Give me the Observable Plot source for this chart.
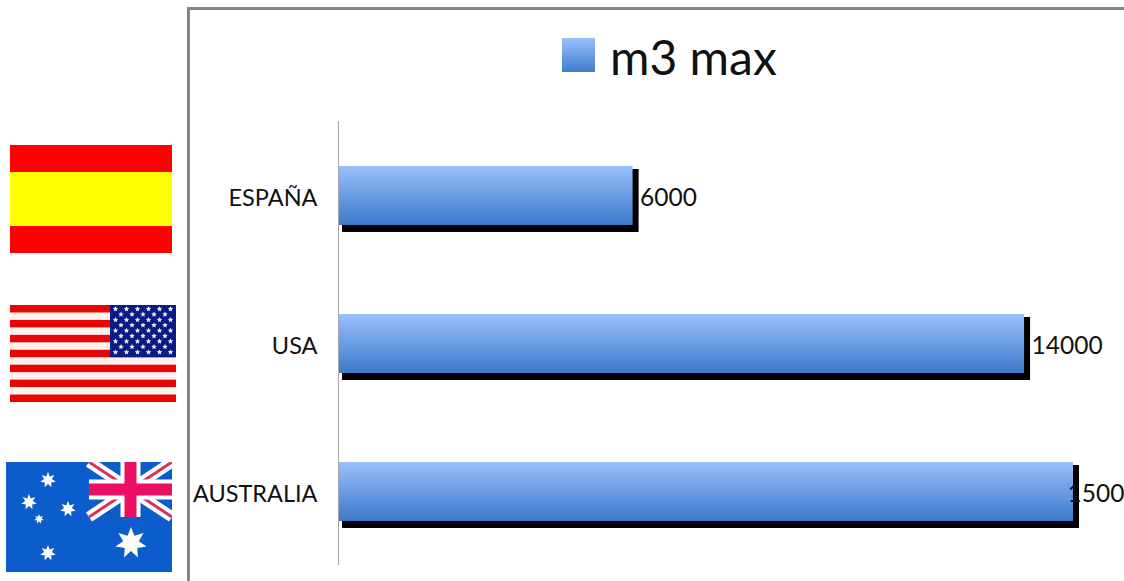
<!DOCTYPE html>
<html>
<head>
<meta charset="utf-8">
<script src="https://cdn.jsdelivr.net/npm/d3@7"></script>
<script src="https://cdn.jsdelivr.net/npm/@observablehq/plot@0.6"></script>
<style>
  html, body { margin: 0; padding: 0; background: #fff; overflow: hidden; }
  #page { position: relative; width: 1124px; height: 581px; overflow: hidden; font-family: Lato, sans-serif; color: #111; }
  #frame { position: absolute; left: 187px; top: 7px; width: 1000px; height: 700px; border-left: 3px solid #858585; border-top: 3px solid #858585; box-sizing: border-box; }
  #chart { position: absolute; left: 0; top: 0; }
  #legend { position: absolute; left: 562px; top: 22px; display: flex; align-items: center; height: 70px; }
  #swatch { width: 33px; height: 34px; margin-top: -5px; background: linear-gradient(#9abffb, #3f7ccd); }
  #legend span { margin-left: 15px; font-size: 48px; line-height: 70px; }
  .flag { position: absolute; display: block; }
</style>
</head>
<body>
<div id="page">
  <div id="frame"></div>
  <div id="chart"></div>
  <div id="legend"><div id="swatch"></div><span id="legend-label"></span></div>
</div>
<script>
const countries = ["ESPAÑA", "USA", "AUSTRALIA"];
const maxVolumes = [6000, 14000, 15000];
const seriesName = "m3 max";

const rows = countries.map((country, i) => ({country, value: maxVolumes[i]}));

document.getElementById("legend-label").textContent = seriesName;

// Vertical blue gradient shared by every bar
const barGradient = () => {
  const svg = d3.create("svg:g");
  const gradient = svg.append("linearGradient")
    .attr("id", "bar-fill").attr("x1", 0).attr("y1", 0).attr("x2", 0).attr("y2", 1);
  gradient.append("stop").attr("offset", "0%").attr("stop-color", "#9abffb");
  gradient.append("stop").attr("offset", "100%").attr("stop-color", "#3c79cb");
  return svg.node();
};

const chart = Plot.plot({
  width: 1124,
  height: 581,
  marginLeft: 339,
  marginRight: 51,
  marginTop: 121,
  marginBottom: 16,
  style: {background: "transparent", fontFamily: "Lato, sans-serif", overflow: "hidden"},
  x: {domain: [0, 15000], axis: null},
  y: {domain: countries, paddingInner: 0.6, paddingOuter: 0.3, label: null},
  marks: [
    barGradient,
    // Offset black shadow behind each bar
    Plot.barX(rows, {
      x: "value", y: "country", fill: "black", dy: 1,
      insetLeft: 3, insetRight: -6, insetTop: 3, insetBottom: -7
    }),
    Plot.barX(rows, {x: "value", y: "country", fill: "url(#bar-fill)", dy: 1}),
    Plot.ruleX([0], {stroke: "#a6a6a6", strokeWidth: 1, dx: -1}),
    Plot.axisY({tickSize: 0, tickPadding: 22, fontSize: 23.5, label: null, fill: "#111", marginLeft: 339, dy: 3}),
    Plot.text(rows.filter(d => d.value < 15000), {
      x: "value", y: "country", text: d => String(d.value),
      textAnchor: "start", dx: 7, dy: 3, fontSize: 24.5, fill: "#111"
    }),
    // The longest bar's label sits over the bar end and runs off the page
    Plot.text(rows.filter(d => d.value === 15000), {
      x: "value", y: "country", text: d => String(d.value),
      textAnchor: "start", dx: -6, dy: 3, fontSize: 24.5, fill: "#111"
    })
  ]
});
document.getElementById("chart").append(chart);

// Flag helpers: each flag is its own small SVG placed beside the chart
const page = document.getElementById("page");
function flagSvg(left, top, w, h) {
  const s = d3.create("svg").attr("class", "flag").attr("width", w).attr("height", h)
    .attr("viewBox", `0 0 ${w} ${h}`).style("left", left + "px").style("top", top + "px");
  page.append(s.node());
  return s;
}
function starPath(cx, cy, r, points, innerRatio) {
  const p = [];
  for (let i = 0; i < points * 2; i++) {
    const rad = i % 2 ? r * innerRatio : r;
    const a = -Math.PI / 2 + i * Math.PI / points;
    p.push([cx + rad * Math.cos(a), cy + rad * Math.sin(a)]);
  }
  return "M" + p.map(d => d.join(",")).join("L") + "Z";
}

// Spain
{
  const s = flagSvg(10, 145, 162, 108);
  s.append("rect").attr("width", 162).attr("height", 108).attr("fill", "#fe0000");
  s.append("rect").attr("y", 27).attr("width", 162).attr("height", 54).attr("fill", "#ffff00");
}

// USA, with the canton on the right
{
  const w = 166, h = 97, stripe = h / 13;
  const s = flagSvg(10, 305, w, h);
  s.append("rect").attr("width", w).attr("height", h).attr("fill", "#fdf3ee");
  for (let i = 0; i < 13; i += 2) {
    s.append("rect").attr("y", i * stripe).attr("width", w).attr("height", stripe).attr("fill", "#e60606");
  }
  s.append("rect").attr("x", 100).attr("width", 66).attr("height", stripe * 7).attr("fill", "#0c1a84");
  for (let r = 0; r < 9; r++) {
    const n = r % 2 ? 5 : 6;
    for (let c = 0; c < n; c++) {
      const x = 100 + (r % 2 ? 11 : 5.5) + c * 11;
      const y = 4 + r * 5.4;
      s.append("path").attr("d", starPath(x, y, 2.8, 5, 0.5)).attr("fill", "#e8e8f4");
    }
  }
}

// Australia
{
  const w = 166, h = 110;
  const s = flagSvg(6, 462, w, h);
  s.append("rect").attr("width", w).attr("height", h).attr("fill", "#0c5ccb");
  const jack = s.append("g").attr("transform", "translate(83,0)");
  const jw = 83, jh = 55;
  jack.append("path").attr("d", `M0,0L${jw},${jh}M${jw},0L0,${jh}`).attr("stroke", "#fff").attr("stroke-width", 11);
  jack.append("path").attr("d", `M0,0L${jw},${jh}M${jw},0L0,${jh}`).attr("stroke", "#d8305f").attr("stroke-width", 3);
  jack.append("path").attr("d", `M${jw / 2},0V${jh}M0,${jh / 2}H${jw}`).attr("stroke", "#fff").attr("stroke-width", 20);
  jack.append("path").attr("d", `M${jw / 2},0V${jh}M0,${jh / 2}H${jw}`).attr("stroke", "#ea0f62").attr("stroke-width", 12);
  [[125, 81, 16], [42, 18, 8], [23, 40, 8], [62, 47, 8], [33, 57, 5], [42, 91, 8]].forEach(([x, y, r]) => {
    s.append("path").attr("d", starPath(x, y, r, 7, 0.5)).attr("fill", "#fdfdf6");
  });
}
</script>
</body>
</html>
